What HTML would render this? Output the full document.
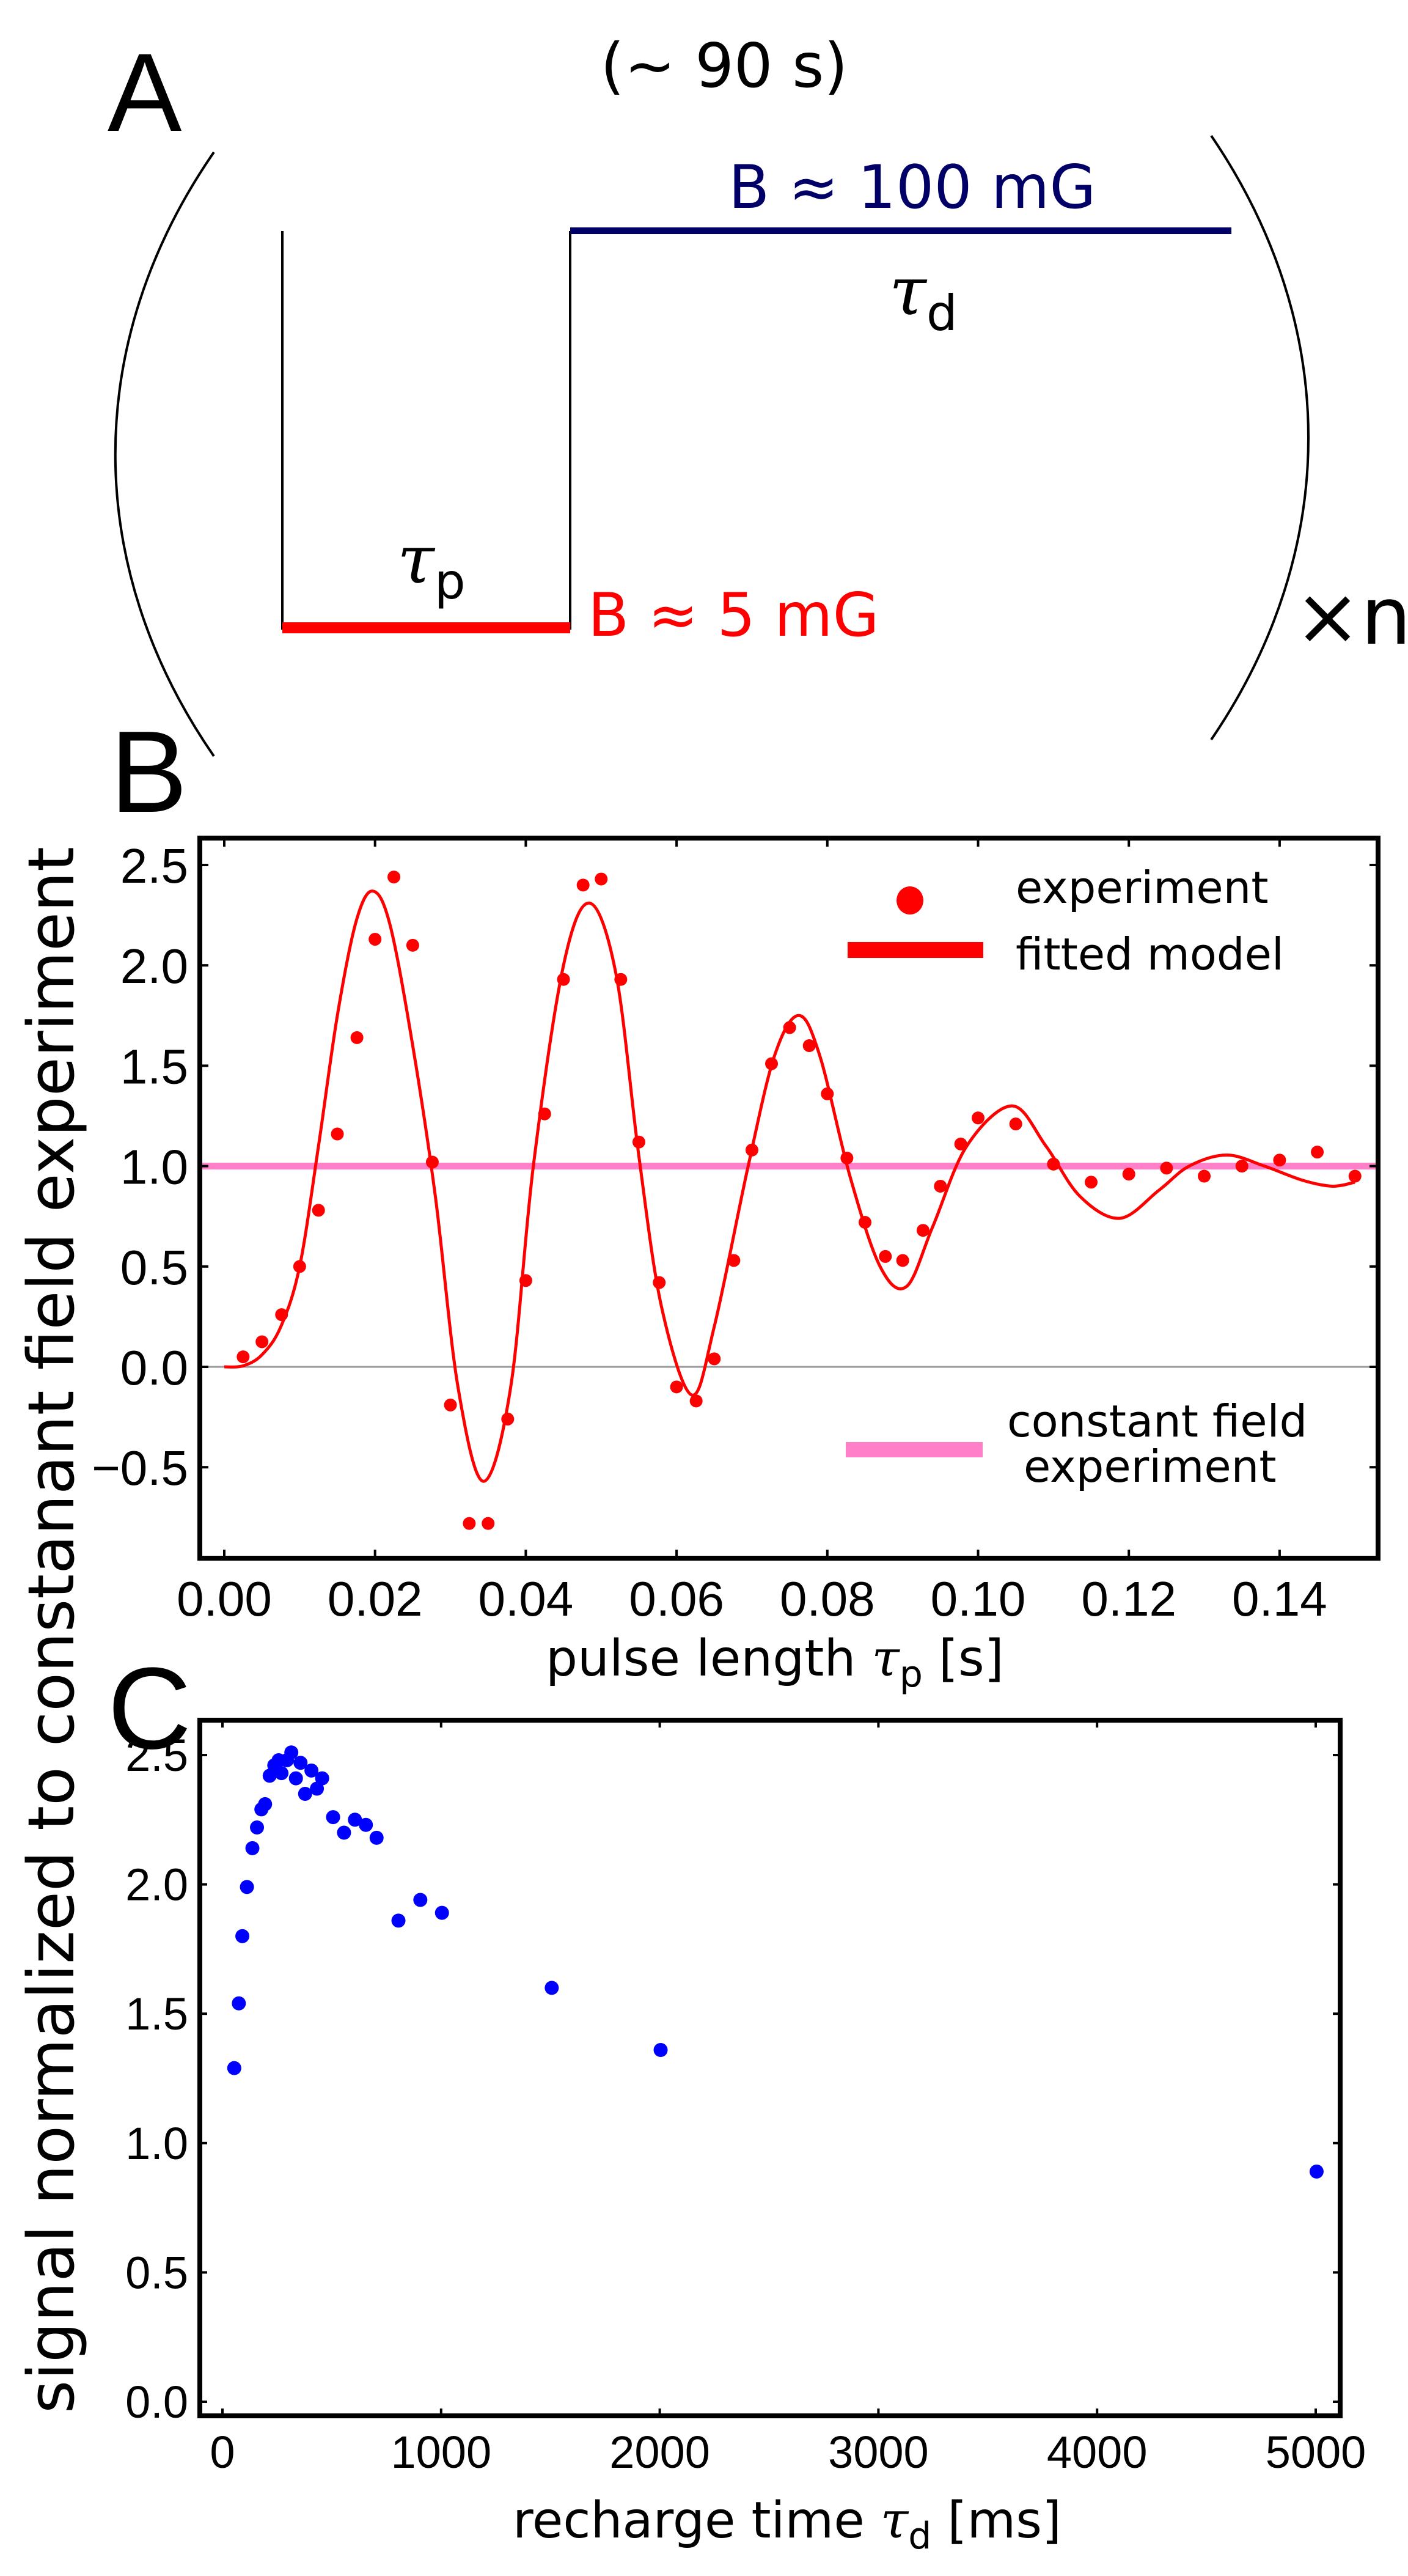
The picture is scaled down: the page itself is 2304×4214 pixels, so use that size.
<!DOCTYPE html>
<html><head><meta charset="utf-8"><title>Pulse experiment figure</title>
<style>
html,body{margin:0;padding:0;background:#fff;}
svg{display:block;}
.dv{font-family:"DejaVu Sans","Liberation Sans",sans-serif;}
.lb{font-family:"Liberation Sans",sans-serif;}
</style></head>
<body>
<svg id="fig" width="2304" height="4214" viewBox="0 0 2304 4214" xmlns="http://www.w3.org/2000/svg">
<rect width="2304" height="4214" fill="#fff"/>
<!-- Panel A -->
<g>
<text x="176" y="214" class="lb" font-size="182">A</text>
<text x="1185" y="142" class="dv" font-size="100" text-anchor="middle">(~ 90 s)</text>
<path d="M350,249 C135,560 135,926 350,1237" fill="none" stroke="#000" stroke-width="4"/>
<path d="M1982,222 C2194,533 2194,899 1982,1210" fill="none" stroke="#000" stroke-width="4"/>
<line x1="462" y1="378" x2="462" y2="1030" stroke="#000" stroke-width="4"/>
<line x1="933" y1="378" x2="933" y2="1030" stroke="#000" stroke-width="4"/>
<rect x="462" y="1018" width="471" height="18" fill="#ff0000"/>
<rect x="933" y="372" width="1082" height="11" fill="#000066"/>
<text x="1192" y="340" class="dv" font-size="98" fill="#000066">B ≈ 100 mG</text>
<text x="962" y="1040" class="dv" font-size="98" fill="#ff0000">B ≈ 5 mG</text>
<text x="1455" y="514" font-family="'DejaVu Serif',serif" font-style="italic" font-size="110">τ<tspan class="dv" font-style="normal" font-size="80" dy="26">d</tspan></text>
<text x="650" y="953" font-family="'DejaVu Serif',serif" font-style="italic" font-size="110">τ<tspan class="dv" font-style="normal" font-size="80" dy="26">p</tspan></text>
<text x="2118" y="1053" class="dv" font-size="130">×n</text>
</g>
<text x="180" y="1328" class="lb" font-size="190">B</text>
<text x="176" y="2860" class="lb" font-size="190">C</text>
<text transform="translate(120,3948) rotate(-90)" class="dv" font-size="104" textLength="2563" lengthAdjust="spacingAndGlyphs">signal normalized to constanant field experiment</text>
<g id="chartB"></g>
<g id="chartC"></g>
</svg>
<script>
// ---- Panel B data ----
const bTickX = [0, 0.02, 0.04, 0.06, 0.08, 0.10, 0.12, 0.14];
const bTickXLabels = ["0.00","0.02","0.04","0.06","0.08","0.10","0.12","0.14"];
const bTickY = [-0.5, 0, 0.5, 1.0, 1.5, 2.0, 2.5];
const bTickYLabels = ["\u22120.5","0.0","0.5","1.0","1.5","2.0","2.5"];
const bExpX = [0.0025,0.005,0.0076,0.01,0.0125,0.015,0.0176,0.02,0.0225,0.025,0.0276,0.03,0.0325,0.035,0.0376,0.04,0.0425,0.045,0.0476,0.05,0.0526,0.055,0.0577,0.06,0.0626,0.065,0.0676,0.07,0.0726,0.075,0.0776,0.08,0.0826,0.085,0.0877,0.09,0.0927,0.095,0.0977,0.10,0.105,0.11,0.115,0.12,0.125,0.13,0.135,0.14,0.145,0.15];
const bExpY = [0.05,0.125,0.26,0.5,0.78,1.16,1.64,2.13,2.44,2.10,1.02,-0.19,-0.78,-0.78,-0.26,0.43,1.26,1.93,2.40,2.43,1.93,1.12,0.42,-0.10,-0.17,0.04,0.53,1.08,1.51,1.69,1.60,1.36,1.04,0.72,0.55,0.53,0.68,0.90,1.11,1.24,1.21,1.01,0.92,0.96,0.99,0.95,1.00,1.03,1.07,0.95];
const bFitX = [0,0.0025,0.005,0.0075,0.01,0.0125,0.015,0.0175,0.0197,0.022,0.025,0.028,0.031,0.0344,0.038,0.041,0.045,0.0485,0.052,0.055,0.058,0.062,0.065,0.0695,0.073,0.0762,0.079,0.083,0.087,0.0905,0.094,0.0985,0.1045,0.109,0.1135,0.1188,0.124,0.128,0.133,0.138,0.143,0.147,0.15];
const bFitY = [0,0.005,0.06,0.2,0.5,1.1,1.75,2.22,2.37,2.2,1.6,0.85,-0.1,-0.57,-0.1,1.0,2.0,2.31,1.95,1.05,0.3,-0.14,0.2,1.0,1.55,1.75,1.55,0.95,0.5,0.40,0.7,1.1,1.30,1.1,0.85,0.74,0.88,1.0,1.055,1.0,0.93,0.9,0.92];
const bConst = [1.0];
// ---- Panel C data ----
const cTickX = [0,1000,2000,3000,4000,5000];
const cTickXLabels = ["0","1000","2000","3000","4000","5000"];
const cTickY = [0,0.5,1.0,1.5,2.0,2.5];
const cTickYLabels = ["0.0","0.5","1.0","1.5","2.0","2.5"];
const cX = [54,75,91,112,137,158,178,195,216,237,257,270,295,315,336,357,378,407,432,456,506,556,606,656,705,805,905,1004,1506,2004,5004];
const cY = [1.29,1.54,1.80,1.99,2.14,2.22,2.29,2.31,2.42,2.46,2.48,2.43,2.48,2.51,2.41,2.47,2.35,2.44,2.37,2.41,2.26,2.20,2.25,2.23,2.18,1.86,1.94,1.89,1.60,1.36,0.89];

const NS = "http://www.w3.org/2000/svg";
function mk(parent, tag, attrs, text) {
  const e = document.createElementNS(NS, tag);
  for (const k in attrs) e.setAttribute(k, attrs[k]);
  if (text !== undefined) e.textContent = text;
  parent.appendChild(e);
  return e;
}

// ---- Draw B ----
(function(){
  const g = document.getElementById('chartB');
  const L=327, R=2255, T=1371, Bt=2549;
  const xB = v => 367 + v/0.02*246.7;
  const yB = v => 2236 - v*328.4;
  let e = mk(g,'line',{x1:L,x2:R,y1:yB(0),y2:yB(0),stroke:'#999','stroke-width':3});
  
  
  e = mk(g,'line',{x1:L,x2:R,y1:yB(bConst[0]),y2:yB(bConst[0]),stroke:'#ff80c8','stroke-width':11});
  
  
  const P = bFitX.map((x,i)=>[xB(x),yB(bFitY[i])]);
  let d = 'M'+P[0][0]+','+P[0][1];
  for (let i=0;i<P.length-1;i++){
    const p0=P[Math.max(0,i-1)],p1=P[i],p2=P[i+1],p3=P[Math.min(P.length-1,i+2)];
    const c1=[p1[0]+(p2[0]-p0[0])/6,p1[1]+(p2[1]-p0[1])/6];
    const c2=[p2[0]-(p3[0]-p1[0])/6,p2[1]-(p3[1]-p1[1])/6];
    d+=' C'+c1[0]+','+c1[1]+' '+c2[0]+','+c2[1]+' '+p2[0]+','+p2[1];
  }
  e = mk(g,'path',{d:d,fill:'none',stroke:'#ff0000','stroke-width':5});
  
  
  bExpX.forEach((x,i)=>{
    const c = mk(g,'circle',{cx:xB(x),cy:yB(bExpY[i]),r:10.5,fill:'#ff0000'});
    
    
  });
  e = mk(g,'rect',{x:L,y:T,width:R-L,height:Bt-T,fill:'none',stroke:'#000','stroke-width':8});
  
  
  bTickX.forEach((v,i)=>{
    mk(g,'line',{x1:xB(v),x2:xB(v),y1:Bt,y2:Bt-14,stroke:'#000','stroke-width':4});
    mk(g,'line',{x1:xB(v),x2:xB(v),y1:T,y2:T+14,stroke:'#000','stroke-width':4});
    const t = mk(g,'text',{x:xB(v),y:2643,'text-anchor':'middle','class':'lb','font-size':80},bTickXLabels[i]);
    
    
  });
  bTickY.forEach((v,i)=>{
    mk(g,'line',{x1:L,x2:L+14,y1:yB(v),y2:yB(v),stroke:'#000','stroke-width':4});
    mk(g,'line',{x1:R,x2:R-14,y1:yB(v),y2:yB(v),stroke:'#000','stroke-width':4});
    const t = mk(g,'text',{x:308,y:yB(v)+29,'text-anchor':'end','class':'lb','font-size':80},bTickYLabels[i]);
    
    
  });
  const xt = mk(g,'text',{x:893,y:2741,'class':'dv','font-size':82});
  
  
  xt.innerHTML = 'pulse length <tspan font-family="DejaVu Serif,serif" font-style="italic">τ</tspan><tspan font-size="60" dy="18">p</tspan><tspan dy="-18"> [s]</tspan>';
  e = mk(g,'ellipse',{cx:1489,cy:1473,rx:22,ry:23,fill:'#ff0000'});
  
  
  e = mk(g,'text',{x:1662,y:1477,'class':'dv','font-size':72},'experiment');
  
  
  e = mk(g,'rect',{x:1387,y:1541,width:222,height:26,fill:'#ff0000'});
  
  
  e = mk(g,'text',{x:1662,y:1586,'class':'dv','font-size':72},'fitted model');
  
  
  e = mk(g,'rect',{x:1384,y:2359,width:224,height:25,fill:'#ff80c8'});
  
  
  e = mk(g,'text',{x:1648,y:2350,'class':'dv','font-size':72},'constant field');
  
  
  e = mk(g,'text',{x:1675,y:2424,'class':'dv','font-size':72},'experiment');
  
  
})();

// ---- Draw C ----
(function(){
  const g = document.getElementById('chartC');
  const L=327, R=2193, T=2814, Bt=3952;
  const xC = v => 364 + v/1000*357.8;
  const yC = v => 3929 - v*423.2;
  cX.forEach((x,i)=>{
    const c = mk(g,'circle',{cx:xC(x),cy:yC(cY[i]),r:11.5,fill:'#0000ff'});
    
    
  });
  let e = mk(g,'rect',{x:L,y:T,width:R-L,height:Bt-T,fill:'none',stroke:'#000','stroke-width':8});
  
  
  cTickX.forEach((v,i)=>{
    mk(g,'line',{x1:xC(v),x2:xC(v),y1:Bt,y2:Bt-12,stroke:'#000','stroke-width':4});
    mk(g,'line',{x1:xC(v),x2:xC(v),y1:T,y2:T+12,stroke:'#000','stroke-width':4});
    const t = mk(g,'text',{x:xC(v),y:4037,'text-anchor':'middle','class':'lb','font-size':74},cTickXLabels[i]);
    
    
  });
  cTickY.forEach((v,i)=>{
    mk(g,'line',{x1:L,x2:L+12,y1:yC(v),y2:yC(v),stroke:'#000','stroke-width':4});
    mk(g,'line',{x1:R,x2:R-12,y1:yC(v),y2:yC(v),stroke:'#000','stroke-width':4});
    const t = mk(g,'text',{x:308,y:yC(v)+26,'text-anchor':'end','class':'lb','font-size':74},cTickYLabels[i]);
    
    
  });
  const xt = mk(g,'text',{x:839,y:4151,'class':'dv','font-size':82});
  
  
  xt.innerHTML = 'recharge time <tspan font-family="DejaVu Serif,serif" font-style="italic">τ</tspan><tspan font-size="60" dy="18">d</tspan><tspan dy="-18"> [ms]</tspan>';
})();
</script>
</body></html>
